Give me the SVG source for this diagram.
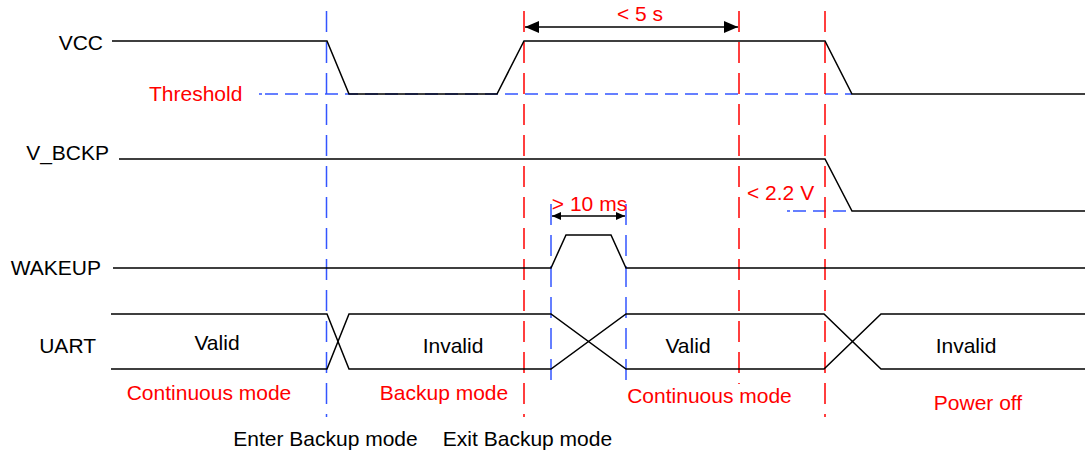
<svg xmlns="http://www.w3.org/2000/svg" width="1085" height="452" viewBox="0 0 1085 452">
<style>
text{font-family:"Liberation Sans",Arial,sans-serif;font-size:21px}
.lbl{fill:#000}
.red{fill:#ff0000}
.sig{fill:none;stroke:#000;stroke-width:1.5}
.vr{stroke:#ff0000;stroke-width:1.5;stroke-dasharray:21 10;fill:none}
.vb{stroke:#3355ff;stroke-width:1.5;stroke-dasharray:21 10;fill:none}
.hb{stroke:#3355ff;stroke-width:1.5;stroke-dasharray:13 7;fill:none}
.dim{stroke:#000;stroke-width:1.5;fill:none}
</style>
<defs>
<marker id="ah" markerWidth="14" markerHeight="12" refX="14" refY="6" orient="auto-start-reverse" markerUnits="userSpaceOnUse">
<path d="M0,0 L14,6 L0,12 Z" fill="#000"/>
</marker>
<marker id="ahs" markerWidth="9" markerHeight="8" refX="9" refY="4" orient="auto-start-reverse" markerUnits="userSpaceOnUse">
<path d="M0,0 L9,4 L0,8 Z" fill="#000"/>
</marker>
</defs>

<g id="guides">
<line class="hb" x1="265" y1="94" x2="852" y2="94"/>
<line x1="259" y1="94" x2="262" y2="94" stroke="#3355ff" stroke-width="1.5"/>
<line class="hb" x1="793" y1="211" x2="852" y2="211"/>
<line x1="787" y1="211" x2="790" y2="211" stroke="#3355ff" stroke-width="1.5"/>
<line class="vb" x1="326.5" y1="11" x2="326.5" y2="417"/>
<line class="vr" x1="524" y1="11" x2="524" y2="417"/>
<line class="vr" x1="739" y1="11" x2="739" y2="384"/>
<line class="vr" x1="825" y1="11" x2="825" y2="417"/>
<line class="vb" x1="551" y1="204" x2="551" y2="382"/>
<line class="vb" x1="626" y1="204" x2="626" y2="382"/>
</g>

<g id="vcc">
<text class="lbl" x="103" y="50" text-anchor="end">VCC</text>
<polyline class="sig" points="112,41 327,41 349,94 497,94 524,41 825,41 852,94 1085,94"/>
</g>

<g id="threshold">
<text class="red" x="149" y="101">Threshold</text>
</g>

<g id="vbckp">
<text class="lbl" x="109" y="160" text-anchor="end">V_BCKP</text>
<polyline class="sig" points="119,159 825,159 852,211 1085,211"/>
<text class="red" x="747" y="200">&lt; 2.2 V</text>
</g>

<g id="wakeup">
<text class="lbl" x="101" y="275" text-anchor="end">WAKEUP</text>
<polyline class="sig" points="113,268 551,268 566,235 611,235 626,268 1085,268"/>
</g>

<g id="uart">
<text class="lbl" x="96" y="353" text-anchor="end">UART</text>
<polyline class="sig" points="111,314 327,314 349,369 551,369 626,314 824,314 881,369 1085,369"/>
<polyline class="sig" points="111,369 327,369 349,314 551,314 626,369 824,369 881,314 1085,314"/>
<text class="lbl" x="217" y="350" text-anchor="middle">Valid</text>
<text class="lbl" x="453" y="353" text-anchor="middle">Invalid</text>
<text class="lbl" x="688" y="353" text-anchor="middle">Valid</text>
<text class="lbl" x="966" y="353" text-anchor="middle">Invalid</text>
</g>

<g id="modes">
<text class="red" x="209" y="400" text-anchor="middle">Continuous mode</text>
<text class="red" x="444" y="400" text-anchor="middle">Backup mode</text>
<text class="red" x="709.5" y="403" text-anchor="middle">Continuous mode</text>
<text class="red" x="978" y="410" text-anchor="middle">Power off</text>
<text class="lbl" x="325.5" y="446" text-anchor="middle">Enter Backup mode</text>
<text class="lbl" x="527.5" y="446" text-anchor="middle">Exit Backup mode</text>
</g>

<g id="connectors">
<line class="dim" x1="525" y1="27" x2="738" y2="27" marker-start="url(#ah)" marker-end="url(#ah)"/>
<text class="red" x="640" y="21" text-anchor="middle">&lt; 5 s</text>
<line class="dim" x1="552" y1="216" x2="625" y2="216" marker-start="url(#ahs)" marker-end="url(#ahs)"/>
<text class="red" x="589.5" y="211" text-anchor="middle">&gt; 10 ms</text>
</g>
</svg>
